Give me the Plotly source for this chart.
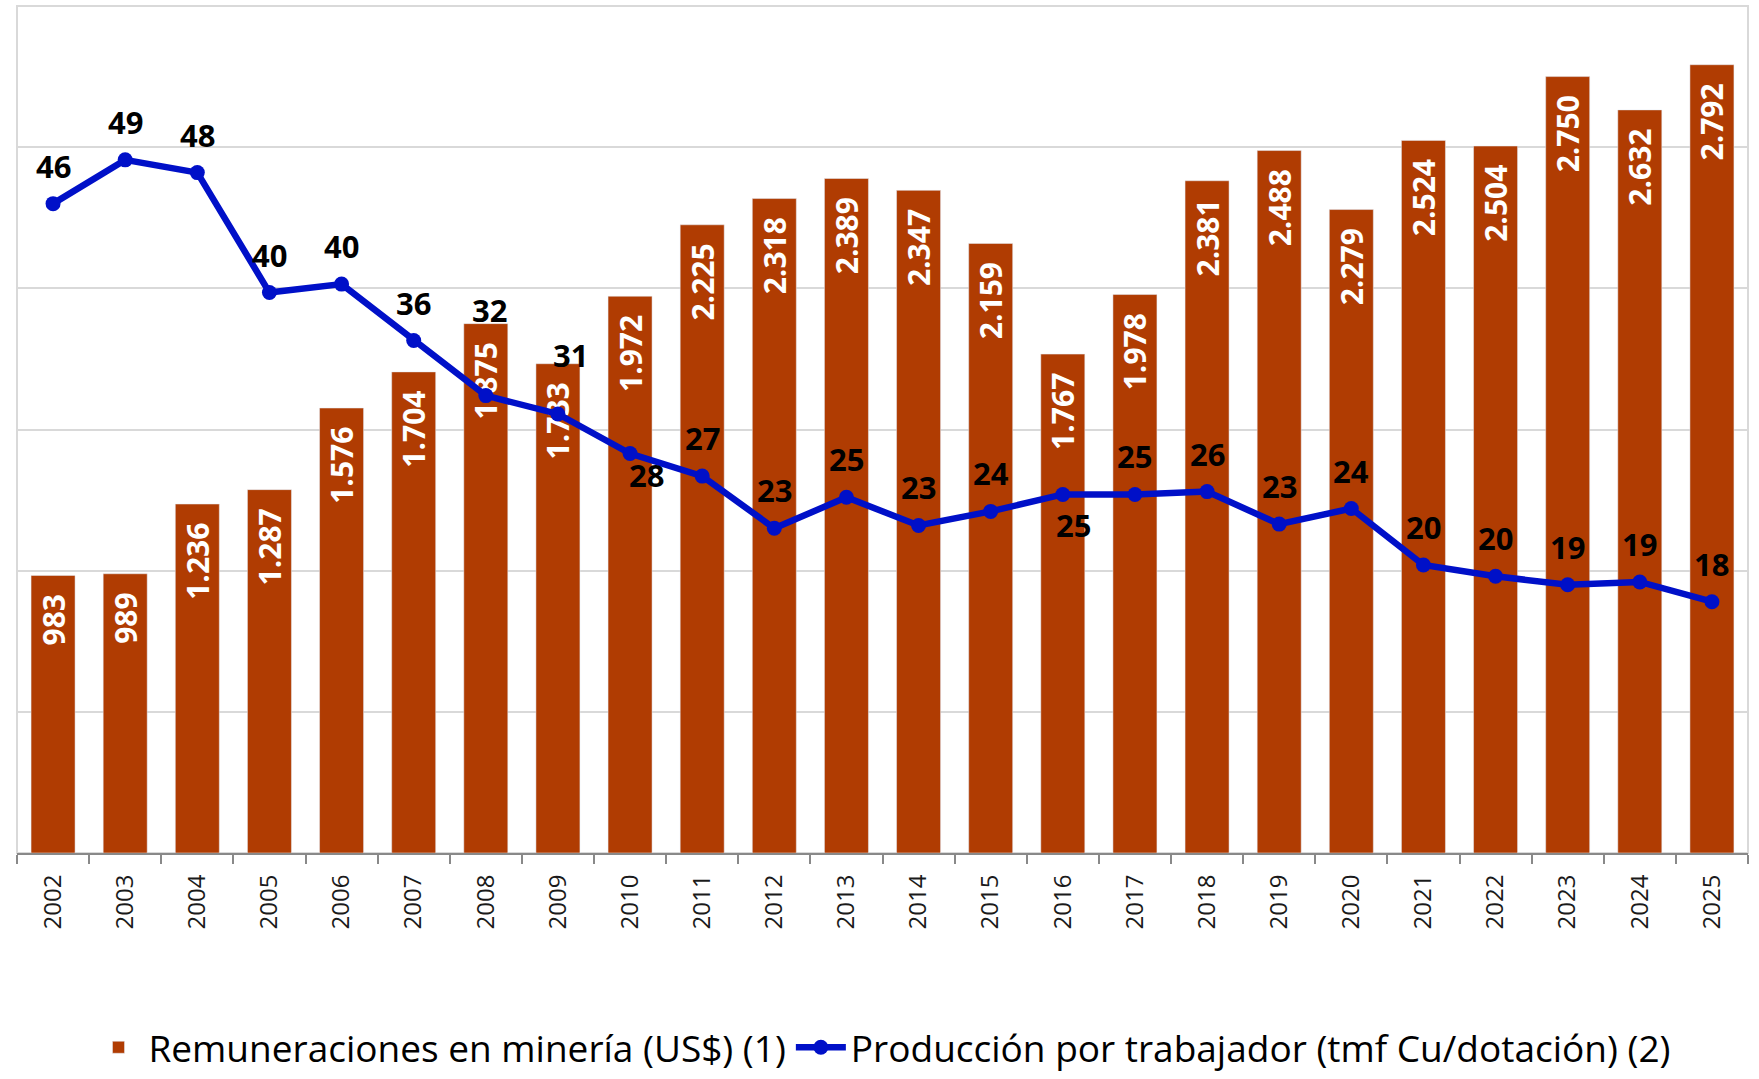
import plotly.graph_objects as go

# data
years = [str(y) for y in range(2002, 2026)]
remuneraciones = [983, 989, 1236, 1287, 1576, 1704, 1875, 1733, 1972, 2225, 2318, 2389,
                  2347, 2159, 1767, 1978, 2381, 2488, 2279, 2524, 2504, 2750, 2632, 2792]
produccion = [46.0, 49.1, 48.2, 39.7, 40.3, 36.3, 32.4, 31.1, 28.3, 26.7, 23.0, 25.2,
              23.2, 24.2, 25.4, 25.4, 25.6, 23.3, 24.4, 20.4, 19.6, 19.0, 19.2, 17.8]

bar_name = "Remuneraciones en minería (US$) (1)"
line_name = "Producción por trabajador (tmf Cu/dotación) (2)"

BAR_COLOR = "#B03C02"
LINE_COLOR = "#0010C8"
FONT = "Open Sans"

# label offsets for the line labels (pixels)
label_dx = [0] * len(years)
label_dy = [38] * len(years)
label_dx[6], label_dy[6] = 4, 86     # 2008
label_dx[7], label_dy[7] = 13, 59    # 2009
label_dx[8], label_dy[8] = 16, -21   # 2010
label_dx[14], label_dy[14] = 11, -31  # 2016

fig = go.Figure()

fig.add_trace(
    go.Bar(
        x=years,
        y=remuneraciones,
        name=bar_name,
        marker=dict(color=BAR_COLOR),
        texttemplate="%{y:,}\u00a0\u00a0",
        textposition="inside",
        insidetextanchor="end",
        textangle=-90,
        constraintext="none",
        insidetextfont=dict(family=FONT, size=30, color="white", weight="bold"),
        yaxis="y",
    )
)

fig.add_trace(
    go.Scatter(
        x=years,
        y=produccion,
        name=line_name,
        mode="lines+markers",
        line=dict(color=LINE_COLOR, width=6.5),
        marker=dict(color=LINE_COLOR, size=15),
        yaxis="y2",
    )
)

# category index is used for annotation x (numeric-looking strings are read as indexes)
notes = []
for i, (v, dx, dy) in enumerate(zip(produccion, label_dx, label_dy)):
    notes.append(
        {
            "text": "{:.0f}".format(v),
            "x": i,
            "y": v,
            "xref": "x",
            "yref": "y2",
            "xshift": dx,
            "yshift": dy,
            "showarrow": False,
            "font": {"family": FONT, "size": 31, "color": "black", "weight": "bold"},
        }
    )

fig.update_layout(
    width=1759,
    height=1079,
    margin=dict(l=17, r=11, t=6, b=226),
    paper_bgcolor="white",
    plot_bgcolor="white",
    separators=",.",
    bargap=0.39,
    font=dict(family=FONT, color="#1a1a1a"),
    annotations=notes,
    showlegend=True,
    legend=dict(
        orientation="h",
        x=0.5,
        xanchor="center",
        yref="container",
        y=0.029,
        yanchor="middle",
        font=dict(family=FONT, size=37, color="black"),
        itemwidth=50,
        traceorder="normal",
    ),
    shapes=[
        dict(
            type="rect",
            xref="paper",
            yref="paper",
            x0=0,
            x1=1,
            y0=0,
            y1=1,
            line=dict(color="#D9D9D9", width=2),
            layer="below",
        )
    ],
)

fig.update_xaxes(
    type="category",
    range=[-0.5, len(years) - 0.5],
    tickangle=-90,
    tickson="boundaries",
    ticks="outside",
    ticklen=9,
    tickwidth=2,
    tickcolor="#898989",
    ticklabelstandoff=10,
    showline=True,
    linecolor="#898989",
    linewidth=2,
    tickfont=dict(family=FONT, size=24, color="#1a1a1a"),
    showgrid=False,
)

fig.update_layout(
    yaxis=dict(
        range=[0, 3000],
        dtick=500,
        showticklabels=False,
        gridcolor="#D9D9D9",
        gridwidth=2,
        zeroline=False,
    ),
    yaxis2=dict(
        range=[0, 60],
        overlaying="y",
        side="right",
        showticklabels=False,
        showgrid=False,
        zeroline=False,
    ),
)

fig.write_html(
    "out.html",
    config={"displayModeBar": False},
    post_script="document.body.style.margin='0';",
)
